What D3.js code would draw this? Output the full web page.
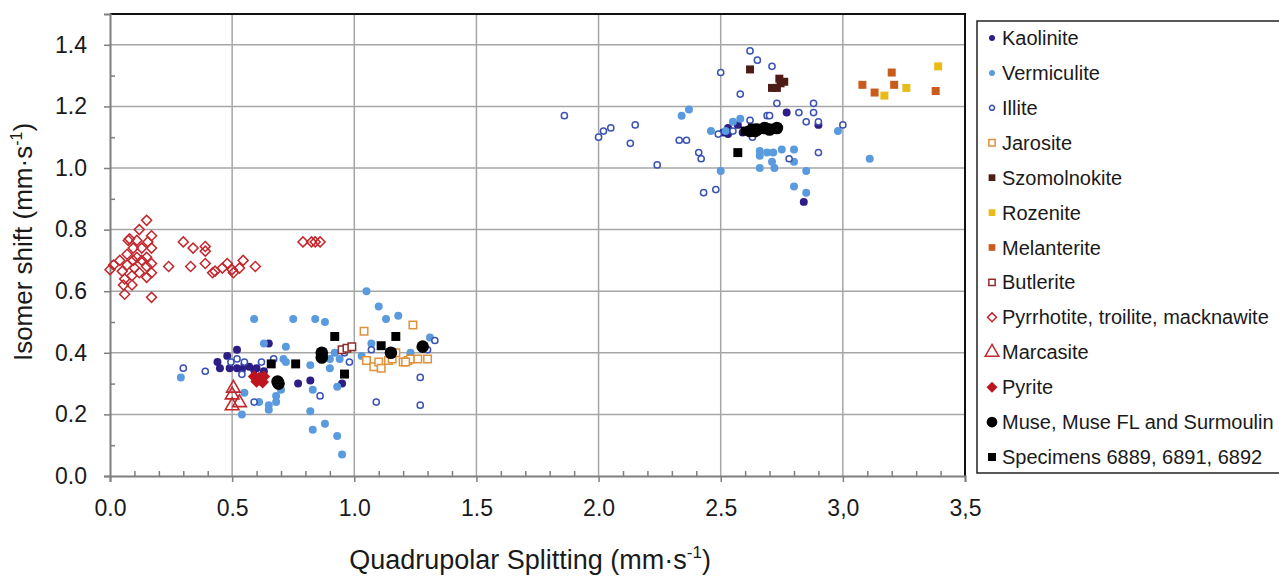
<!DOCTYPE html>
<html>
<head>
<meta charset="utf-8">
<script src="https://cdn.jsdelivr.net/npm/d3@7"></script>
<style>
body { margin: 0; background: #fff; }
text { font-family: "Liberation Sans", Arial, sans-serif; }
</style>
</head>
<body>
<script>
const width = 1279;
const height = 577;

// data, [quadrupolar splitting, isomer shift]
const kaolinite = [[0.52,0.41],[0.48,0.39],[0.44,0.37],[0.45,0.35],[0.49,0.35],[0.52,0.35],[0.55,0.36],[0.57,0.355],
	[0.59,0.345],[0.63,0.34],[0.65,0.43],[0.77,0.30],[0.82,0.31],[0.95,0.30],[0.60,0.35],[0.54,0.345],
	[2.77,1.18],[2.53,1.13],[2.53,1.11],[2.51,1.115],[2.59,1.115],[2.57,1.14],[2.90,1.14],[2.84,0.89],[2.61,1.12]];
const vermiculite = [[0.59,0.51],[0.75,0.51],[0.84,0.51],[0.88,0.50],[0.63,0.43],[0.72,0.42],[0.71,0.38],[0.72,0.37],
	[0.82,0.36],[0.90,0.35],[0.90,0.38],[0.92,0.40],[0.94,0.38],[0.83,0.28],[0.93,0.29],[0.29,0.32],[0.55,0.27],
	[0.68,0.26],[0.68,0.24],[0.65,0.23],[0.65,0.215],[0.61,0.24],[0.54,0.20],[0.82,0.21],[0.83,0.15],[0.88,0.17],
	[0.93,0.13],[0.95,0.07],[1.05,0.60],[1.10,0.55],[1.13,0.51],[1.18,0.52],[1.31,0.45],[1.07,0.43],[1.23,0.40],
	[1.03,0.39],[0.70,0.28],
	[2.37,1.19],[2.34,1.17],[2.55,1.15],[2.58,1.16],[2.46,1.12],[2.98,1.12],[2.66,1.055],[2.66,1.04],[2.69,1.05],
	[2.715,1.05],[2.75,1.06],[2.80,1.06],[2.71,1.02],[2.66,1.00],[2.72,1.00],[2.80,1.02],[2.85,0.99],[2.50,0.99],
	[2.80,0.94],[2.85,0.92],[3.11,1.03],[2.52,1.12]];
const illite = [[0.30,0.35],[0.39,0.34],[0.495,0.37],[0.52,0.38],[0.54,0.33],[0.62,0.37],[0.67,0.38],[0.59,0.24],
	[0.86,0.26],[0.98,0.37],[0.96,0.40],[1.07,0.41],[1.33,0.44],[1.27,0.32],[1.09,0.24],[1.27,0.23],[1.30,0.41],[0.55,0.37],
	[1.86,1.17],[2.00,1.10],[2.02,1.12],[2.05,1.13],[2.15,1.14],[2.13,1.08],[2.24,1.01],[2.33,1.09],[2.36,1.09],
	[2.41,1.05],[2.42,1.03],[2.43,0.92],[2.48,0.93],[2.50,1.31],[2.58,1.24],[2.62,1.38],[2.65,1.35],[2.71,1.33],
	[2.73,1.21],[2.49,1.11],[2.55,1.12],[2.63,1.10],[2.69,1.17],[2.70,1.17],[2.62,1.155],[2.82,1.18],[2.85,1.15],
	[2.88,1.21],[2.88,1.18],[2.90,1.15],[3.00,1.14],[2.90,1.05],[2.78,1.03],[2.73,1.13]];
const jarosite = [[1.04,0.47],[1.24,0.49],[1.05,0.375],[1.08,0.355],[1.10,0.37],[1.11,0.35],[1.14,0.375],[1.155,0.38],
	[1.17,0.40],[1.20,0.37],[1.22,0.375],[1.23,0.38],[1.26,0.38],[1.30,0.38],[1.21,0.37]];
const szomolnokite = [[2.62,1.32],[2.74,1.29],[2.76,1.28],[2.71,1.26],[2.73,1.26],[2.745,1.275]];
const rozenite = [[3.39,1.33],[3.26,1.26],[3.17,1.235]];
const melanterite = [[3.08,1.27],[3.13,1.245],[3.20,1.31],[3.21,1.27],[3.38,1.25]];
const butlerite = [[0.95,0.41],[0.97,0.415],[0.99,0.42]];
const pyrrhotite = [[0.15,0.83],[0.12,0.80],[0.08,0.77],[0.075,0.765],[0.11,0.765],[0.17,0.78],[0.155,0.76],[0.17,0.74],
	[0.13,0.74],[0.095,0.74],[0.07,0.72],[0.11,0.71],[0.15,0.71],[0.04,0.70],[0.095,0.70],[0.13,0.70],[0.17,0.69],
	[0.015,0.685],[0.07,0.685],[0.0,0.67],[0.10,0.675],[0.15,0.68],[0.05,0.665],[0.12,0.66],[0.17,0.66],[0.09,0.65],
	[0.06,0.64],[0.15,0.645],[0.09,0.62],[0.055,0.62],[0.06,0.59],[0.17,0.58],[0.24,0.68],[0.30,0.76],[0.34,0.74],
	[0.39,0.745],[0.39,0.73],[0.33,0.68],[0.39,0.69],[0.42,0.66],[0.43,0.665],[0.46,0.675],[0.48,0.69],[0.50,0.67],
	[0.505,0.66],[0.53,0.675],[0.545,0.70],[0.595,0.68],[0.79,0.76],[0.825,0.76],[0.84,0.76],[0.86,0.76]];
const marcasite = [[0.505,0.285],[0.50,0.263],[0.53,0.238],[0.50,0.228]];
const pyrite = [[0.59,0.323],[0.61,0.318],[0.615,0.312],[0.63,0.323],[0.60,0.307],[0.625,0.305]];
const muse = [[0.686,0.307],[0.69,0.30],[0.867,0.40],[0.867,0.385],[1.15,0.40],[1.28,0.42],
	[2.62,1.12],[2.65,1.125],[2.68,1.13],[2.70,1.125],[2.73,1.13],[2.64,1.12]];
const specimens = [[0.66,0.364],[0.76,0.364],[0.92,0.453],[0.96,0.331],[1.11,0.423],[1.17,0.453],
	[2.57,1.05],[2.60,1.12],[2.63,1.13],[2.66,1.125],[2.72,1.125]];

const xTicks = [0, 0.5, 1.0, 1.5, 2.0, 2.5, 3.0, 3.5];
const xTickLabels = ["0.0", "0.5", "1.0", "1.5", "2.0", "2.5", "3,0", "3,5"];
const yTicks = [0, 0.2, 0.4, 0.6, 0.8, 1.0, 1.2, 1.4];

const series = [
	{ name: "Kaolinite", data: kaolinite, shape: "circle", size: 50, fill: "#2d1e86", stroke: "none", lsize: 28 },
	{ name: "Vermiculite", data: vermiculite, shape: "circle", size: 50, fill: "#5a9ade", stroke: "none", lsize: 28 },
	{ name: "Illite", data: illite, shape: "circle", size: 30, fill: "#fff", stroke: "#3a52b4", lsize: 20 },
	{ name: "Jarosite", data: jarosite, shape: "square", size: 56, fill: "#fff", stroke: "#e0913a", lsize: 40 },
	{ name: "Szomolnokite", data: szomolnokite, shape: "square", size: 64, fill: "#4e1c16", stroke: "none", lsize: 45 },
	{ name: "Rozenite", data: rozenite, shape: "square", size: 64, fill: "#e8bb16", stroke: "none", lsize: 45 },
	{ name: "Melanterite", data: melanterite, shape: "square", size: 64, fill: "#c95c1c", stroke: "none", lsize: 45 },
	{ name: "Butlerite", data: butlerite, shape: "square", size: 56, fill: "#fff", stroke: "#8e2c2a", lsize: 40 },
	{ name: "Pyrrhotite, troilite, macknawite", data: pyrrhotite, shape: "diamond", size: 50, fill: "none", stroke: "#c3262c", lsize: 40 },
	{ name: "Marcasite", data: marcasite, shape: "triangle", size: 80, fill: "none", stroke: "#c3262c", lsize: 80 },
	{ name: "Pyrite", data: pyrite, shape: "diamond", size: 80, fill: "#bd1420", stroke: "none", lsize: 60 },
	{ name: "Muse, Muse FL and Surmoulin", data: muse, shape: "circle", size: 125, fill: "#000", stroke: "none", lsize: 90 },
	{ name: "Specimens 6889, 6891, 6892", data: specimens, shape: "square", size: 80, fill: "#000", stroke: "none", lsize: 64 }
];

const margin = { left: 110, right: 965, top: 14, bottom: 476 };

const x = d3.scaleLinear().domain([0, 3.5]).range([margin.left, margin.right]);
const y = d3.scaleLinear().domain([0, 1.5]).range([margin.bottom, margin.top]);

const svg = d3.select("body")
	.append("svg")
	.attr("width", width)
	.attr("height", height);

// grid
svg.append("g").selectAll("line")
	.data(xTicks.slice(1, -1))
	.join("line")
	.attr("x1", d => x(d)).attr("x2", d => x(d))
	.attr("y1", margin.top).attr("y2", margin.bottom)
	.attr("stroke", "#a6a6a6").attr("stroke-width", 1.5);

svg.append("g").selectAll("line")
	.data(yTicks.slice(1))
	.join("line")
	.attr("x1", margin.left).attr("x2", margin.right)
	.attr("y1", d => y(d)).attr("y2", d => y(d))
	.attr("stroke", "#a6a6a6").attr("stroke-width", 1.5);

// frame top / right
svg.append("path")
	.attr("d", `M${margin.left},${margin.top}H${margin.right}V${margin.bottom}`)
	.attr("fill", "none")
	.attr("stroke", "#111")
	.attr("stroke-width", 2);

// axes
const xAxis = svg.append("g")
	.attr("transform", `translate(0,${margin.bottom})`)
	.call(d3.axisBottom(x).tickValues(xTicks).tickSize(6).tickPadding(18)
		.tickFormat((d, i) => xTickLabels[i]));
const xMinor = svg.append("g")
	.attr("transform", `translate(0,${margin.bottom})`)
	.call(d3.axisTop(x).tickValues(d3.range(1, 35).filter(i => i % 5 != 0).map(i => i / 10))
		.tickSize(5).tickFormat(""));

const yAxis = svg.append("g")
	.attr("transform", `translate(${margin.left},0)`)
	.call(d3.axisLeft(y).tickValues(yTicks).tickSize(6).tickPadding(17)
		.tickFormat(d3.format(".1f")));
const yMinor = svg.append("g")
	.attr("transform", `translate(${margin.left},0)`)
	.call(d3.axisRight(y).tickValues(d3.range(1, 15).filter(i => i % 2 != 0).map(i => i / 10))
		.tickSize(5).tickFormat(""));

[xAxis, xMinor, yAxis, yMinor].forEach(g => {
	g.select(".domain").attr("stroke", "#7f7f7f").attr("stroke-width", 2);
	g.selectAll(".tick line").attr("stroke", "#7f7f7f").attr("stroke-width", 1.5);
	g.selectAll(".tick text")
		.attr("font-family", "Liberation Sans, Arial, sans-serif")
		.attr("font-size", 23)
		.attr("fill", "#1a1a1a");
});
xMinor.select(".domain").remove();
yMinor.select(".domain").remove();

// axis titles
const xTitle = svg.append("text")
	.attr("x", 530).attr("y", 569)
	.attr("text-anchor", "middle")
	.attr("font-size", 27)
	.attr("fill", "#1a1a1a");
xTitle.append("tspan").text("Quadrupolar Splitting (mm·s");
xTitle.append("tspan").attr("font-size", 17).attr("dy", -11).text("-1");
xTitle.append("tspan").attr("dy", 11).text(")");

const yTitle = svg.append("text")
	.attr("transform", "translate(32,242) rotate(-90)")
	.attr("text-anchor", "middle")
	.attr("font-size", 26)
	.attr("fill", "#1a1a1a");
yTitle.append("tspan").text("Isomer shift (mm·s");
yTitle.append("tspan").attr("font-size", 16).attr("dy", -10).text("-1");
yTitle.append("tspan").attr("dy", 10).text(")");

// markers
function symbolPath(shape, size) {
	const types = {
		circle: d3.symbolCircle,
		square: d3.symbolSquare,
		diamond: d3.symbolSquare,
		triangle: d3.symbolTriangle
	};
	return d3.symbol().type(types[shape]).size(size)();
}
function symbolRotate(shape) {
	return shape == "diamond" ? " rotate(45)" : "";
}

series.forEach(s => {
	svg.append("g").selectAll("path")
		.data(s.data)
		.join("path")
		.attr("d", symbolPath(s.shape, s.size))
		.attr("transform", d => `translate(${x(d[0])},${y(d[1])})` + symbolRotate(s.shape))
		.attr("fill", s.fill)
		.attr("stroke", s.stroke)
		.attr("stroke-width", s.shape == "triangle" ? 1.6 : 1.5);
});

// legend
const legend = svg.append("g");
legend.append("rect")
	.attr("x", 977).attr("y", 21)
	.attr("width", 330).attr("height", 452)
	.attr("fill", "#fff")
	.attr("stroke", "#222")
	.attr("stroke-width", 1.5);

const ly = d3.scalePoint().domain(series.map(s => s.name)).range([38, 457]);

const item = legend.selectAll("g.item")
	.data(series)
	.join("g")
	.attr("class", "item")
	.attr("transform", d => `translate(0,${ly(d.name)})`);

item.append("path")
	.attr("d", d => symbolPath(d.shape, d.lsize))
	.attr("transform", d => "translate(992,0)" + symbolRotate(d.shape))
	.attr("fill", d => d.fill)
	.attr("stroke", d => d.stroke)
	.attr("stroke-width", 1.5);

item.append("text")
	.attr("x", 1002)
	.attr("dy", "0.35em")
	.attr("font-size", 20)
	.attr("fill", "#1a1a1a")
	.text(d => d.name);
</script>
</body>
</html>
